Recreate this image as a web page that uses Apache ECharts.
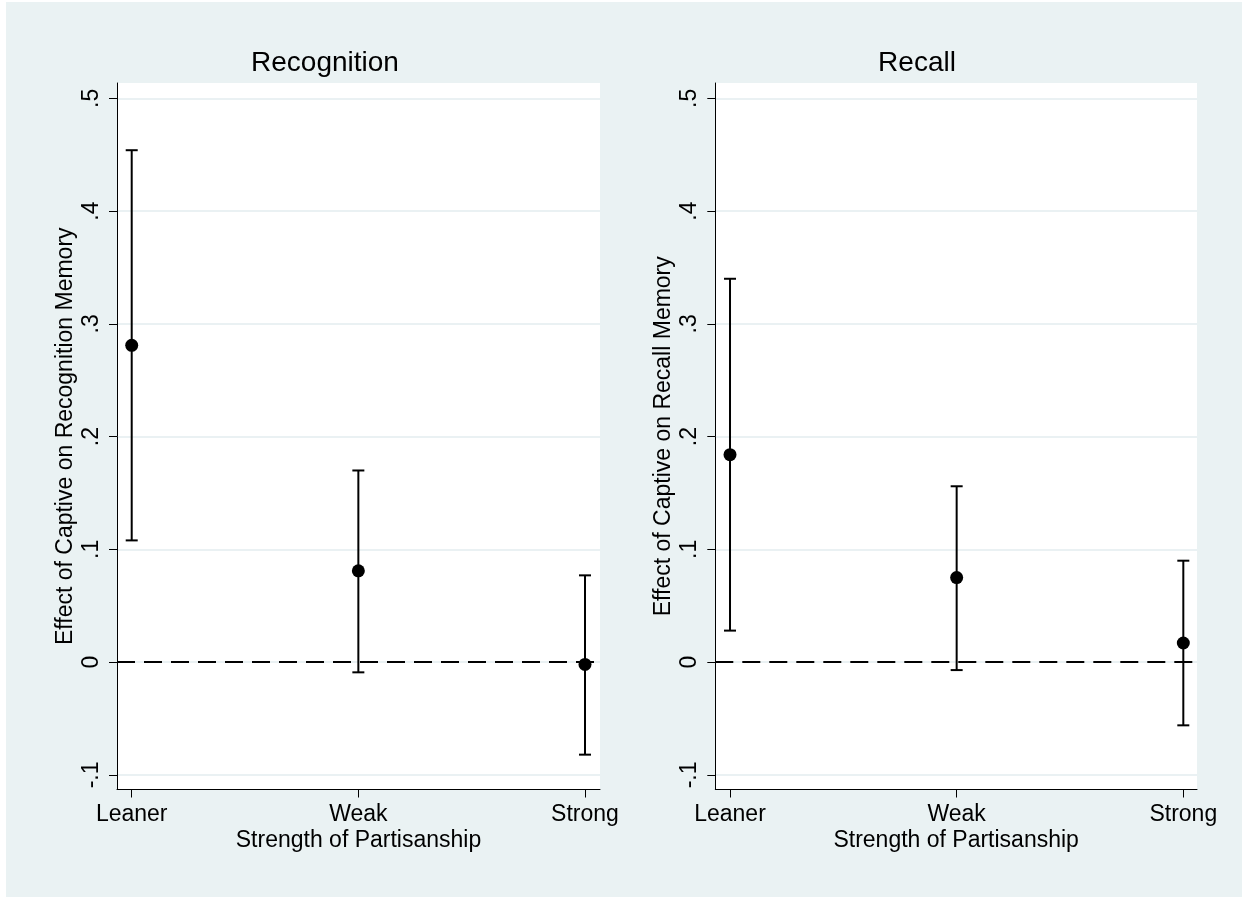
<!DOCTYPE html>
<html>
<head>
<meta charset="utf-8">
<script src="https://cdn.jsdelivr.net/npm/echarts@6/dist/echarts.min.js"></script>
<style>
html,body{margin:0;padding:0;background:#ffffff;}
#chart{width:1243px;height:899px;}
</style>
</head>
<body>
<div id="chart"></div>
<script>
// ---- data ----
const categories = ['Leaner', 'Weak', 'Strong'];
const panelTitles = ['Recognition', 'Recall'];
const yAxisTitles = ['Effect of Captive on Recognition Memory', 'Effect of Captive on Recall Memory'];
const xAxisTitle = 'Strength of Partisanship';

const recognitionEst = [0.281, 0.081, -0.002];
const recognitionLo  = [0.108, -0.009, -0.082];
const recognitionHi  = [0.454, 0.170, 0.077];

const recallEst = [0.184, 0.075, 0.017];
const recallLo  = [0.028, -0.007, -0.056];
const recallHi  = [0.340, 0.156, 0.090];

const yTickValues = [-0.1, 0, 0.1, 0.2, 0.3, 0.4, 0.5];
const yTickLabels = ['-.1', '0', '.1', '.2', '.3', '.4', '.5'];
const xTickValues = [0, 1, 2];
const referenceValue = 0;

// ---- styling / layout ----
const FONT = '"Liberation Sans", Arial, Helvetica, sans-serif';
const BG = '#eaf2f3';
const GRIDLINE = '#e3ecef';
const LABEL_SIZE = 23;

const panels = [
  { est: recognitionEst, lo: recognitionLo, hi: recognitionHi },
  { est: recallEst, lo: recallLo, hi: recallHi }
];

const grids = [
  { left: 117, top: 83, width: 483, height: 706.5 },
  { left: 715.3, top: 83, width: 481.7, height: 706.5 }
];
const xMax = [2.0662, 2.0604];
const titleX = [325, 917];

function yLabel(v) {
  for (let i = 0; i < yTickValues.length; i++) {
    if (Math.abs(yTickValues[i] - v) < 1e-9) return yTickLabels[i];
  }
  return '';
}

const option = {
  animation: false,
  backgroundColor: '#ffffff',
  textStyle: { fontFamily: FONT },
  graphic: [
    { type: 'rect', z: -10, silent: true, shape: { x: 6, y: 2, width: 1236, height: 895 }, style: { fill: BG } },
    ...panelTitles.map((t, i) => ({
      type: 'text', z: 10, silent: true, x: titleX[i], y: 63,
      style: { text: t, font: '28px ' + FONT, fill: '#000', textAlign: 'center', textVerticalAlign: 'middle' }
    }))
  ],
  grid: grids.map(g => Object.assign({
    show: true, backgroundColor: '#ffffff', borderWidth: 0, containLabel: false, outerBoundsMode: 'none'
  }, g)),
  xAxis: [0, 1].map(i => ({
    gridIndex: i, type: 'value', min: -0.0649, max: xMax[i],
    name: xAxisTitle, nameLocation: 'middle', nameGap: 40, nameMoveOverlap: false,
    nameTextStyle: { fontFamily: FONT, fontSize: LABEL_SIZE, color: '#000' },
    axisLine: { show: true, onZero: false, lineStyle: { color: '#000', width: 1 } },
    axisTick: { show: true, length: 8, customValues: xTickValues, lineStyle: { color: '#000', width: 1 } },
    axisLabel: {
      show: true, customValues: xTickValues, margin: 14, fontSize: LABEL_SIZE, color: '#000', fontFamily: FONT,
      showMinLabel: true, showMaxLabel: true,
      formatter: v => categories[Math.round(v)] || ''
    },
    splitLine: { show: false }
  })),
  yAxis: [0, 1].map(i => ({
    gridIndex: i, type: 'value', min: -0.1129, max: 0.5136,
    name: yAxisTitles[i], nameLocation: 'middle', nameGap: 40, nameRotate: 90, nameMoveOverlap: false,
    nameTextStyle: { fontFamily: FONT, fontSize: LABEL_SIZE, color: '#000' },
    axisLine: { show: true, onZero: false, lineStyle: { color: '#000', width: 1 } },
    axisTick: { show: true, length: 8, customValues: yTickValues, lineStyle: { color: '#000', width: 1 } },
    axisLabel: {
      show: true, rotate: 90, customValues: yTickValues, margin: 14, fontSize: LABEL_SIZE, color: '#000', fontFamily: FONT,
      showMinLabel: true, showMaxLabel: true,
      formatter: v => yLabel(v)
    },
    splitLine: { show: true, lineStyle: { color: GRIDLINE, width: 1.5 } }
  })),
  series: []
};

panels.forEach((p, i) => {
  option.series.push({
    type: 'custom',
    xAxisIndex: i, yAxisIndex: i,
    silent: true,
    z: 3,
    data: categories.map((c, k) => [k, p.lo[k], p.hi[k]]),
    encode: { x: 0, y: [1, 2] },
    renderItem: (params, api) => {
      const x = api.value(0);
      const a = api.coord([x, api.value(1)]);
      const b = api.coord([x, api.value(2)]);
      const hw = 6;
      const st = { stroke: '#000', lineWidth: 2 };
      return {
        type: 'group',
        children: [
          { type: 'line', shape: { x1: a[0], y1: a[1], x2: b[0], y2: b[1] }, style: st },
          { type: 'line', shape: { x1: b[0] - hw, y1: b[1], x2: b[0] + hw, y2: b[1] }, style: st },
          { type: 'line', shape: { x1: a[0] - hw, y1: a[1], x2: a[0] + hw, y2: a[1] }, style: st }
        ]
      };
    }
  });
  option.series.push({
    type: 'scatter',
    xAxisIndex: i, yAxisIndex: i,
    silent: true,
    z: 4,
    symbol: 'circle',
    symbolSize: 13,
    itemStyle: { color: '#000', opacity: 1 },
    data: p.est.map((v, k) => [k, v]),
    markLine: {
      silent: true,
      symbol: ['none', 'none'],
      label: { show: false },
      lineStyle: { color: '#000', width: 2, type: [18, 9], opacity: 1 },
      data: [{ yAxis: referenceValue }]
    }
  });
});

const chart = echarts.init(document.getElementById('chart'), null, { renderer: 'canvas' });
chart.setOption(option);
</script>
</body>
</html>
